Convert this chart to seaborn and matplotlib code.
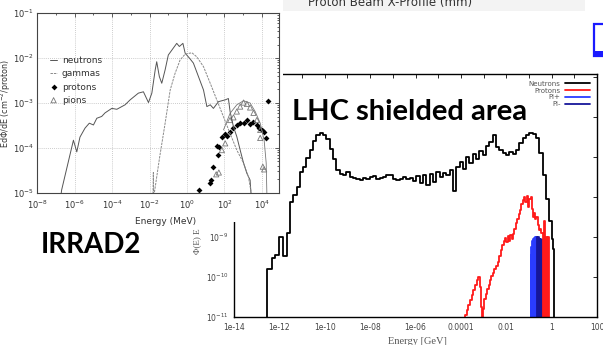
import numpy as np
import matplotlib
matplotlib.use("Agg")
import matplotlib.pyplot as plt
import seaborn as sns
from matplotlib.patches import Rectangle
from matplotlib.ticker import NullFormatter, NullLocator

# ---- left chart (IRRAD2): log10 energy [MeV] / log10 E dPhi/dE
irr_neutron_loge = [-6.75, -6.70, -6.07, -5.89, -5.72, -5.45, -5.22, -5.00, -4.82, -4.56, -4.38,
                    -4.02, -3.75, -3.31, -3.04, -2.60, -2.33, -2.06, -1.88, -1.70, -1.62, -1.48,
                    -1.35, -1.17, -1.00, -0.81, -0.55, -0.41, -0.22, -0.10, 0.13, 0.34, 0.61,
                    0.88, 1.06, 1.24, 1.41, 1.68, 2.04, 2.21, 2.30, 2.48, 2.66, 2.84, 3.02,
                    3.20, 3.37, 3.43]
irr_neutron_val = [-5.10, -4.94, -3.83, -4.09, -3.76, -3.56, -3.45, -3.49, -3.34, -3.30, -3.22,
                   -3.12, -3.14, -3.04, -2.93, -2.78, -2.75, -2.99, -2.78, -2.26, -2.08, -2.41,
                   -2.56, -2.26, -1.93, -1.82, -1.67, -1.74, -1.67, -1.89, -2.00, -2.11, -2.41,
                   -2.71, -3.08, -3.04, -3.12, -2.97, -2.93, -2.90, -3.19, -3.53, -3.75, -4.05,
                   -4.34, -4.57, -4.72, -5.10]
irr_gamma_loge = [-1.82, -1.80, -1.78, -1.46, -1.17, -0.90, -0.64, -0.37, -0.10, 0.26, 0.52, 0.88,
                  1.24, 1.59, 1.95, 2.30, 2.66, 3.02, 3.28, 3.47]
irr_gamma_val = [-5.10, -4.55, -5.10, -4.20, -3.45, -2.71, -2.34, -2.04, -1.91, -1.88, -1.97, -2.19,
                 -2.56, -2.93, -3.31, -3.68, -4.05, -4.34, -4.64, -5.10]
irr_hadron_loge = [1.95, 2.30, 2.66, 3.02, 3.37, 3.64, 3.91, 4.12, 4.23, 4.27]
irr_hadron_val = [-3.60, -3.23, -3.04, -2.95, -3.00, -3.19, -3.45, -3.83, -4.34, -5.10]
irr_proton_loge = [0.63, 1.22, 1.29, 1.41, 1.63, 1.59, 1.73, 1.86, 2.04, 2.16, 2.30, 2.48, 2.66,
                   2.84, 3.02, 3.20, 3.37, 3.55, 3.73, 3.87, 4.00, 4.12, 4.23, 4.30]
irr_proton_val = [-4.95, -4.78, -4.72, -4.43, -4.16, -3.96, -3.97, -3.75, -3.69, -3.74, -3.64,
                  -3.56, -3.49, -3.45, -3.44, -3.39, -3.47, -3.42, -3.49, -3.56, -3.60, -3.64,
                  -3.79, -2.95]
irr_pion_loge = [1.56, 1.70, 1.86, 2.04, 2.30, 2.48, 2.66, 2.84, 3.02, 3.20, 3.37, 3.55, 3.73,
                 3.91, 3.91, 4.05, 4.12]
irr_pion_val = [-4.59, -4.55, -4.05, -3.90, -3.38, -3.32, -3.19, -3.08, -2.99, -3.02, -3.10, -3.22,
                -3.38, -3.60, -3.78, -4.42, -4.48]

# ---- right chart (LHC shielded area): log10 energy [GeV] / log10 Phi(E) E
lhc_neutron_loge = [-12.55, -12.53, -12.34, -12.19, -12.00, -11.83, -11.68, -11.53, -11.39, -11.24,
                    -11.10, -10.96, -10.81, -10.67, -10.52, -10.37, -10.22, -10.08, -9.93, -9.78,
                    -9.64, -9.49, -9.34, -9.20, -9.05, -8.90, -8.76, -8.61, -8.46, -8.32, -8.17,
                    -8.02, -7.88, -7.73, -7.58, -7.44, -7.29, -7.14, -7.00, -6.85, -6.70, -6.56,
                    -6.41, -6.26, -6.12, -5.97, -5.82, -5.68, -5.53, -5.38, -5.24, -5.09, -4.94,
                    -4.80, -4.65, -4.50, -4.36, -4.21, -4.06, -3.92, -3.77, -3.62, -3.48, -3.33,
                    -3.18, -3.04, -2.89, -2.74, -2.60, -2.45, -2.30, -2.16, -2.01, -1.86, -1.72,
                    -1.57, -1.42, -1.28, -1.13, -0.98, -0.84, -0.69, -0.54, -0.40, -0.25, -0.10,
                    0.00, 0.05, 0.12]
lhc_neutron_val = [-12.5, -9.81, -9.53, -9.45, -8.99, -9.47, -8.90, -8.12, -7.95, -7.75,
                   -7.37, -7.24, -7.03, -6.83, -6.60, -6.46, -6.40, -6.44, -6.55, -6.80,
                   -7.05, -7.32, -7.42, -7.45, -7.38, -7.50, -7.53, -7.56, -7.58, -7.52, -7.55,
                   -7.50, -7.47, -7.55, -7.53, -7.49, -7.46, -7.44, -7.54, -7.58, -7.56, -7.51,
                   -7.54, -7.52, -7.60, -7.48, -7.66, -7.45, -7.70, -7.42, -7.62, -7.38, -7.50,
                   -7.40, -7.46, -7.32, -7.85, -7.25, -7.12, -7.30, -7.00, -7.15, -6.92, -7.05,
                   -6.85, -6.95, -6.72, -6.62, -6.45, -6.75, -6.82, -6.90, -6.95, -6.88, -6.92,
                   -6.82, -6.66, -6.52, -6.45, -6.41, -6.42, -6.52, -6.90, -7.45, -8.05, -8.60,
                   -9.05, -9.30, -12.5]
lhc_proton_loge = [-3.85, -3.82, -3.75, -3.68, -3.60, -3.53, -3.46, -3.38, -3.31, -3.24, -3.16,
                   -3.10, -3.06, -3.02, -2.96, -2.90, -2.84, -2.78, -2.72, -2.66, -2.60, -2.52,
                   -2.45, -2.38, -2.31, -2.24, -2.18, -2.12, -2.06, -2.00, -1.94, -1.88, -1.82,
                   -1.76, -1.70, -1.64, -1.58, -1.52, -1.46, -1.40, -1.34, -1.28, -1.22, -1.16,
                   -1.10, -1.04, -0.98, -0.93, -0.88, -0.84, -0.78, -0.72, -0.67, -0.61, -0.56,
                   -0.50, -0.45, -0.40, -0.36, -0.33, -0.30, -0.26, -0.22, -0.14, -0.11, -0.09]
lhc_proton_val = [-11.5, -10.95, -10.83, -10.70, -10.58, -10.45, -10.33, -10.20, -10.08, -10.00,
                  -10.24, -10.75, -11.5, -10.80, -10.55, -10.42, -10.30, -10.20, -10.08, -9.98,
                  -9.90, -9.80, -9.72, -9.62, -9.48, -9.33, -9.20, -9.10, -9.02, -9.12, -8.98,
                  -9.10, -8.95, -9.05, -8.92, -8.80, -8.66, -8.55, -8.42, -8.32, -8.18, -8.08,
                  -8.00, -8.12, -7.98, -8.24, -8.05, -7.99, -8.30, -8.49, -8.40, -8.55, -8.49,
                  -8.70, -8.83, -8.80, -8.91, -9.16, -11.5, -8.60, -11.5, -8.99, -11.5, -8.99,
                  -11.5, -11.5]
lhc_pip_loge = [-0.95, -0.93, -0.91, -0.89, -0.87, -0.85, -0.83, -0.81, -0.79, -0.77, -0.75,
                -0.73, -0.71, -0.69, -0.67]
lhc_pip_val = [-11.5, -9.45, -11.5, -9.25, -11.5, -9.10, -11.5, -9.05, -11.5, -9.02, -11.5,
               -9.00, -11.5, -9.00, -11.5]
lhc_pim_loge = [-0.66, -0.64, -0.62, -0.60, -0.58, -0.56, -0.54, -0.52, -0.50, -0.48, -0.44,
                -0.42, -0.34, -0.32, -0.30, -0.28]
lhc_pim_val = [-9.00, -11.5, -9.02, -11.5, -9.00, -11.5, -9.04, -11.5, -9.05, -11.5, -9.08,
               -11.5, -9.10, -11.5, -9.20, -11.5]

lhc_xtick_labels = ["1e-14", "1e-12", "1e-10", "1e-08", "1e-06", "0.0001", "0.01", "1", "100"]
# only the lowest three y labels show; the rest sit under the left picture
lhc_ytick_labels = ["$10^{-11}$", "$10^{-10}$", "$10^{-9}$", "", "", "", ""]


def p10(v):
    return 10 ** np.array(v, dtype=float)


sns.set_style("white")
plt.rcParams["font.family"] = ["DejaVu Sans"]

W, H = 603, 345
fig = plt.figure(figsize=(W / 100, H / 100), dpi=100)
fig.patch.set_facecolor("white")


def fig_rect(x0, y0, x1, y1):
    # pixel box (top-left origin) -> figure fraction rect
    return [x0 / W, 1 - y1 / H, (x1 - x0) / W, (y1 - y0) / H]


# ---------------- right chart ----------------
ax2 = fig.add_axes(fig_rect(234, 74, 597, 317))
ax2.set_zorder(0)
sns.lineplot(x=p10(lhc_neutron_loge), y=p10(lhc_neutron_val), estimator=None, sort=False,
             drawstyle="steps-post", color="black", lw=1.3, label="Neutrons", ax=ax2)
sns.lineplot(x=p10(lhc_pip_loge), y=p10(lhc_pip_val), estimator=None, sort=False,
             drawstyle="steps-post", color="#2a3cff", lw=1.3, label="Pi+", ax=ax2)
sns.lineplot(x=p10(lhc_pim_loge), y=p10(lhc_pim_val), estimator=None, sort=False,
             drawstyle="steps-post", color="#16169a", lw=1.3, label="Pi-", ax=ax2)
sns.lineplot(x=p10(lhc_proton_loge), y=p10(lhc_proton_val), estimator=None, sort=False,
             drawstyle="steps-post", color="#ff1a1a", lw=1.3, label="Protons", ax=ax2)
ax2.set_xscale("log")
ax2.set_yscale("log")
ax2.set_xlim(1e-14, 1e2)
ax2.set_ylim(1e-11, 10 ** -4.925)
ax2.set_xticks(p10([-14, -12, -10, -8, -6, -4, -2, 0, 2]), labels=lhc_xtick_labels)
ax2.set_xticks(p10([-13, -11, -9, -7, -5, -3, -1, 1]), minor=True)
ax2.xaxis.set_minor_formatter(NullFormatter())
ax2.set_yticks(p10([-11, -10, -9, -8, -7, -6, -5]), labels=lhc_ytick_labels)
ax2.yaxis.set_minor_locator(NullLocator())
ax2.tick_params(which="both", direction="in", length=3, width=0.7, top=True, right=True,
                labelsize=5.5, labelcolor="#444", pad=4)
for s in ax2.spines.values():
    s.set_linewidth(1.0)
    s.set_color("black")
ax2.set_xlabel("Energy [GeV]", family="Liberation Serif", fontsize=7.5, color="#555")
ax2.xaxis.set_label_coords(0.504, -0.082)
ax2.set_ylabel("Φ(E) E", family="Liberation Serif", fontsize=6.5, color="#555")
ax2.yaxis.set_label_coords(-0.091, 0.31)
h, l = ax2.get_legend_handles_labels()
order = [l.index(k) for k in ["Neutrons", "Protons", "Pi+", "Pi-"]]
ax2.legend([h[i] for i in order], [l[i] for i in order], loc="upper right",
           bbox_to_anchor=(0.995, 0.995), frameon=False, markerfirst=False, fontsize=5,
           handlelength=3.6, labelspacing=0.12, borderpad=0.3, handletextpad=0.6,
           labelcolor="#555")

# white backdrop of the left picture
fig.patches.append(Rectangle((0, 1 - 222 / H), 283 / W, 222 / H, transform=fig.transFigure,
                             facecolor="white", edgecolor="none", zorder=1))
# light band of the picture behind, and the blue icon
fig.patches.append(Rectangle((283 / W, 1 - 11 / H), (585 - 283) / W, 11 / H,
                             transform=fig.transFigure, facecolor="#f3f3f3", edgecolor="none",
                             zorder=1))
fig.patches.append(Rectangle((594 / W, 1 - 56 / H), 12 / W, 32 / H, transform=fig.transFigure,
                             facecolor="white", edgecolor="#1a1aff", lw=1.6, zorder=3))
fig.patches.append(Rectangle((594 / W, 1 - 57 / H), 12 / W, 6 / H, transform=fig.transFigure,
                             facecolor="#1a1aff", edgecolor="none", zorder=3))
fig.text(390 / W, 1 - 6 / H, "Proton Beam X-Profile (mm)", ha="center", va="baseline",
         fontsize=8.5, color="#333", zorder=2)

# ---------------- left chart ----------------
ax1 = fig.add_axes(fig_rect(37.3, 13.3, 279.3, 192.7))
ax1.set_zorder(2)
sns.lineplot(x=p10(irr_neutron_loge), y=p10(irr_neutron_val), estimator=None, sort=False,
             color="#555", lw=0.7, label="neutrons", ax=ax1)
sns.lineplot(x=p10(irr_gamma_loge), y=p10(irr_gamma_val), estimator=None, sort=False,
             color="#8a8a8a", lw=0.7, linestyle=(0, (2.5, 1)), label="gammas", ax=ax1)
sns.lineplot(x=p10(irr_hadron_loge), y=p10(irr_hadron_val), estimator=None, sort=False,
             color="#777", lw=0.6, ax=ax1)
sns.scatterplot(x=p10(irr_proton_loge), y=p10(irr_proton_val), marker="D", color="black",
                s=9, linewidth=0, label="protons", ax=ax1)
sns.scatterplot(x=p10(irr_pion_loge), y=p10(irr_pion_val), marker="^", color="#777",
                s=14, linewidth=0.6, label="pions", ax=ax1)
ax1.collections[-1].set_facecolor("none")
ax1.collections[-1].set_edgecolor("#777")
ax1.set_xscale("log")
ax1.set_yscale("log")
ax1.set_xlim(1e-8, 10 ** 4.93)
ax1.set_ylim(1e-5, 1e-1)
ax1.set_xticks(p10([-8, -6, -4, -2, 0, 2, 4]))
ax1.set_xticks(p10([-7, -5, -3, -1, 1, 3]), minor=True)
ax1.xaxis.set_minor_formatter(NullFormatter())
ax1.set_yticks(p10([-5, -4, -3, -2, -1]))
ax1.yaxis.set_minor_formatter(NullFormatter())
ax1.tick_params(which="both", direction="in", top=True, right=True, labelsize=6,
                labelcolor="#333", color="#444", width=0.6, length=3, pad=2.5)
ax1.tick_params(axis="x", which="major", pad=4.5)
ax1.tick_params(which="minor", length=1.6)
ax1.grid(True, which="major", color="#bbb", linestyle=(0, (1, 1.5)), lw=0.6)
for s in ax1.spines.values():
    s.set_linewidth(0.8)
    s.set_color("#444")
ax1.set_xlabel("Energy (MeV)", fontsize=6.5, color="#333")
ax1.xaxis.set_label_coords(0.528, -0.135)
ax1.set_ylabel("EdΦ/dE (cm$^{-2}$/proton)", fontsize=5.8, color="#333")
ax1.yaxis.set_label_coords(-0.1, 0.5)
ax1.legend(loc="upper left", bbox_to_anchor=(0.03, 0.79), frameon=False, fontsize=6.5,
           handlelength=0.8, labelspacing=0.45, handletextpad=0.5, borderpad=0.1,
           labelcolor="#333")

# overlay captions
fig.text(292 / W, 1 - 112 / H, "LHC shielded area", fontsize=21, fontweight="bold",
         family="Lato", va="center", ha="left", color="black", zorder=4)
fig.text(41 / W, 1 - 245 / H, "IRRAD2", fontsize=20, fontweight="bold", family="Lato",
         va="center", ha="left", color="black", zorder=4)

fig.savefig("out.png", dpi=100)
